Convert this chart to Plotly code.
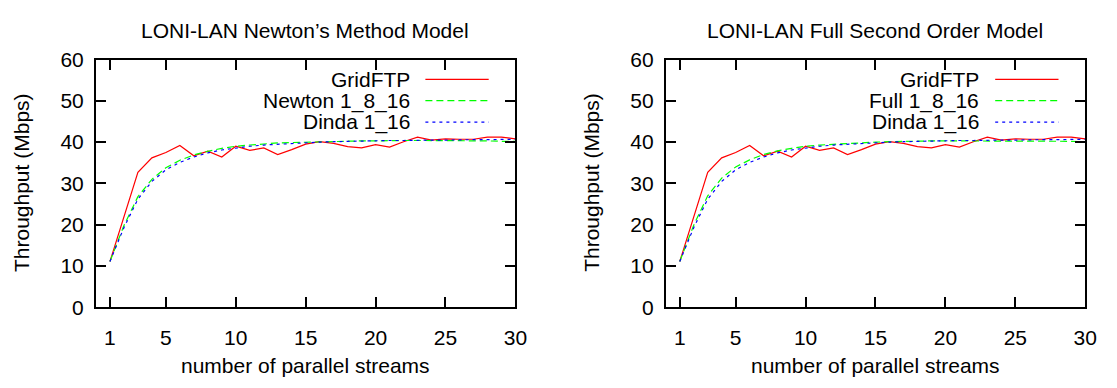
import plotly.graph_objects as go

# ---- data ----
streams = list(range(1, 31))
gridftp = [11.1, 22.0, 32.7, 36.2, 37.5, 39.2, 36.7, 37.8, 36.4, 39.0,
           38.0, 38.6, 37.0, 38.2, 39.5, 40.1, 39.7, 38.9, 38.6, 39.4,
           38.8, 40.1, 41.2, 40.5, 40.8, 40.7, 40.7, 41.2, 41.2, 40.8]
newton = [11.1, 19.8, 26.8, 31.0, 33.8, 35.6, 36.9, 37.8, 38.5, 39.0,
          39.3, 39.6, 39.8, 39.9, 40.0, 40.1, 40.2, 40.3, 40.3, 40.3,
          40.4, 40.4, 40.4, 40.4, 40.3, 40.3, 40.3, 40.3, 40.2, 40.2]
full = [11.1, 19.9, 27.0, 31.3, 34.0, 35.7, 37.0, 37.9, 38.5, 39.0,
        39.3, 39.5, 39.7, 39.9, 40.0, 40.1, 40.2, 40.2, 40.3, 40.3,
        40.3, 40.3, 40.3, 40.3, 40.3, 40.2, 40.2, 40.2, 40.2, 40.1]
dinda = [11.1, 19.3, 26.2, 30.5, 33.3, 35.1, 36.4, 37.4, 38.1, 38.6,
         39.0, 39.3, 39.5, 39.7, 39.8, 40.0, 40.1, 40.2, 40.2, 40.3,
         40.4, 40.4, 40.5, 40.5, 40.5, 40.6, 40.6, 40.6, 40.7, 40.7]
x_ticks = [1, 5, 10, 15, 20, 25, 30]
y_ticks = [0, 10, 20, 30, 40, 50, 60]

titles = ["LONI-LAN Newton\u2019s Method Model", "LONI-LAN Full Second Order Model"]
model_names = ["Newton 1_8_16", "Full 1_8_16"]
model_series = [newton, full]

W, H = 1117, 388
FONT = "Liberation Sans, Arial, Helvetica, sans-serif"
FS = 21

RED, GREEN, BLUE = "#ff0000", "#00ff00", "#0000ff"
GREEN_DASH = "7px,4px"
BLUE_DASH = "3px,4px"

frames = [(97, 521), (673, 1097)]
top_px, bot_px = 50.5, 314

fig = go.Figure()

def px_x(p):
    return p / W

def px_y(p):
    return (H - p) / H

annotations = []
shapes = []
for i, (l, r) in enumerate(frames):
    xa = "x" if i == 0 else "x2"
    ya = "y" if i == 0 else "y2"
    fig.add_trace(go.Scatter(x=streams, y=gridftp, mode="lines", name="GridFTP",
                             line=dict(color=RED, width=1.2), xaxis=xa, yaxis=ya,
                             showlegend=False))
    fig.add_trace(go.Scatter(x=streams, y=model_series[i], mode="lines", name=model_names[i],
                             line=dict(color=GREEN, width=1.2, dash=GREEN_DASH),
                             xaxis=xa, yaxis=ya, showlegend=False))
    fig.add_trace(go.Scatter(x=streams, y=dinda, mode="lines", name="Dinda 1_16",
                             line=dict(color=BLUE, width=1.2, dash=BLUE_DASH),
                             xaxis=xa, yaxis=ya, showlegend=False))

    axis_common = dict(showline=True, linewidth=2, linecolor="black", mirror="ticks",
                       ticks="inside", ticklen=10, tickwidth=1.5, tickcolor="black",
                       showgrid=False, zeroline=False,
                       tickfont=dict(family=FONT, size=FS, color="black"))
    xkey = "xaxis" if i == 0 else "xaxis2"
    ykey = "yaxis" if i == 0 else "yaxis2"
    fig.update_layout(**{
        xkey: dict(domain=[px_x(l), px_x(r)], range=[0, 30], tickvals=x_ticks,
                   anchor=ya, ticklabelstandoff=10, **axis_common),
        ykey: dict(domain=[px_y(bot_px), px_y(top_px)], range=[0, 60], tickvals=y_ticks,
                   anchor=xa, ticklabelstandoff=6, **axis_common),
    })

    cx = (l + r) / 2
    annotations.append(dict(text=titles[i], x=px_x(cx - 1), y=px_y(20), xref="paper", yref="paper",
                            xanchor="center", yanchor="middle", showarrow=False,
                            font=dict(family=FONT, size=FS, color="black")))
    annotations.append(dict(text="number of parallel streams", x=px_x(cx), y=px_y(376),
                            xref="paper", yref="paper", xanchor="center", yanchor="middle",
                            showarrow=False, font=dict(family=FONT, size=FS, color="black")))
    annotations.append(dict(text="Throughput (Mbps)", x=px_x(l - 75), y=px_y(181),
                            xref="paper", yref="paper", xanchor="center", yanchor="middle",
                            textangle=-90, showarrow=False,
                            font=dict(family=FONT, size=FS, color="black")))

    # legend (gnuplot style: text right-aligned, sample to the right)
    leg = [("GridFTP", RED, "solid", 71.7), (model_names[i], GREEN, GREEN_DASH, 94.3),
           ("Dinda 1_16", BLUE, BLUE_DASH, 117.0)]
    for name, col, dash, yy in leg:
        annotations.append(dict(text=name, x=px_x(r - 105), y=px_y(yy), xref="paper", yref="paper",
                                xanchor="right", yanchor="middle", showarrow=False,
                                font=dict(family=FONT, size=FS, color="black")))
        shapes.append(dict(type="line", xref="paper", yref="paper",
                           x0=px_x(r - 91), x1=px_x(r - 27), y0=px_y(yy), y1=px_y(yy),
                           line=dict(color=col, width=1.2, dash=dash)))

fig.update_layout(width=W, height=H, margin=dict(l=0, r=0, t=0, b=0),
                  paper_bgcolor="white", plot_bgcolor="white",
                  annotations=annotations, shapes=shapes, showlegend=False)

fig.write_html("out.html")
